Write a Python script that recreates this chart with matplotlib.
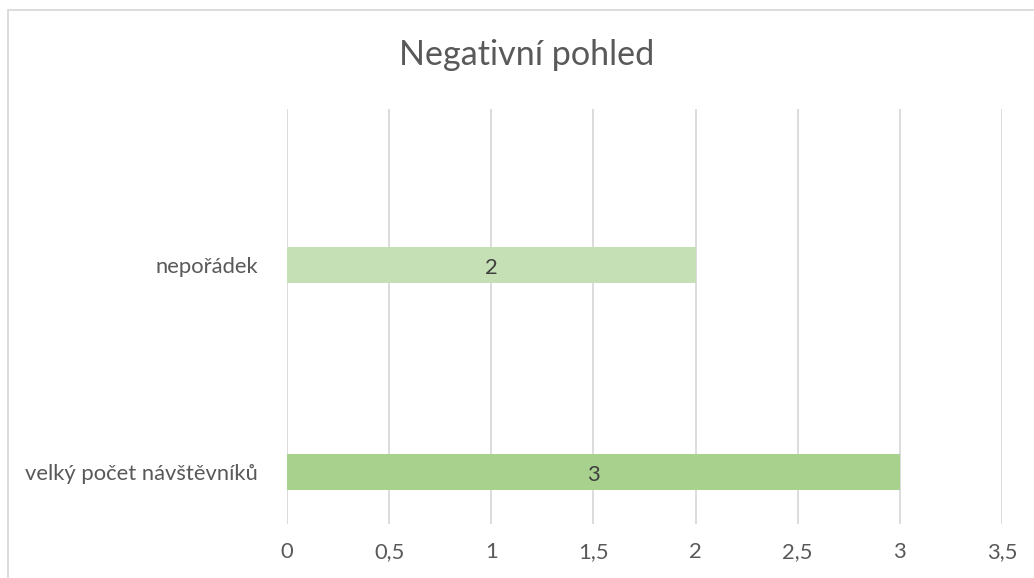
import matplotlib
matplotlib.use("Agg")
import matplotlib.pyplot as plt
from matplotlib.patches import Rectangle

categories = ["velký počet návštěvníků", "nepořádek"]
values = [3, 2]
bar_colors = ["#A9D18E", "#C5E0B4"]
xticks = [0, 0.5, 1, 1.5, 2, 2.5, 3, 3.5]
xtick_labels = ["0", "0,5", "1", "1,5", "2", "2,5", "3", "3,5"]
title = "Negativní pohled"

plt.rcParams['font.family'] = ['Lato', 'DejaVu Sans']

fig = plt.figure(figsize=(10.34, 5.78), dpi=100)
fig.patch.set_facecolor("white")
fig.patches.append(Rectangle((7.5/1034, -0.1), 1.2, 1 - 10.5/578 + 0.1,
                             transform=fig.transFigure, fill=False,
                             edgecolor="#D9D9D9", linewidth=1.3, zorder=0))

ax = fig.add_axes([287/1034, 1 - 524/578, (1002 - 287)/1034, (524 - 109)/578])
ypos = list(range(len(categories)))
bars = ax.barh(ypos, values, height=0.174, color=bar_colors, zorder=3)
ax.set_xlim(0, 3.5)
ax.set_ylim(-0.251, 1.754)
ax.set_xticks(xticks)
ax.set_xticklabels(xtick_labels)
ax.set_yticks(ypos)
ax.set_yticklabels(categories)
ax.tick_params(axis="both", length=0, colors="#595959", labelsize=15.8)
ax.tick_params(axis="x", pad=13)
ax.tick_params(axis="y", pad=21)
for s in ax.spines.values():
    s.set_visible(False)
ax.grid(axis="x", color="#D9D9D9", linewidth=1.3, zorder=0)
ax.set_axisbelow(True)

for b, v in zip(bars, values):
    ax.text(b.get_width() / 2, b.get_y() + b.get_height() / 2 - 0.012, str(v),
            ha="center", va="center", fontsize=15.8, color="#404040", zorder=4)

fig.text(527/1034, 1 - 55/578, title, ha="center", va="center",
         fontsize=24.6, color="#595959")

fig.savefig("out.png", dpi=100, facecolor="white")
